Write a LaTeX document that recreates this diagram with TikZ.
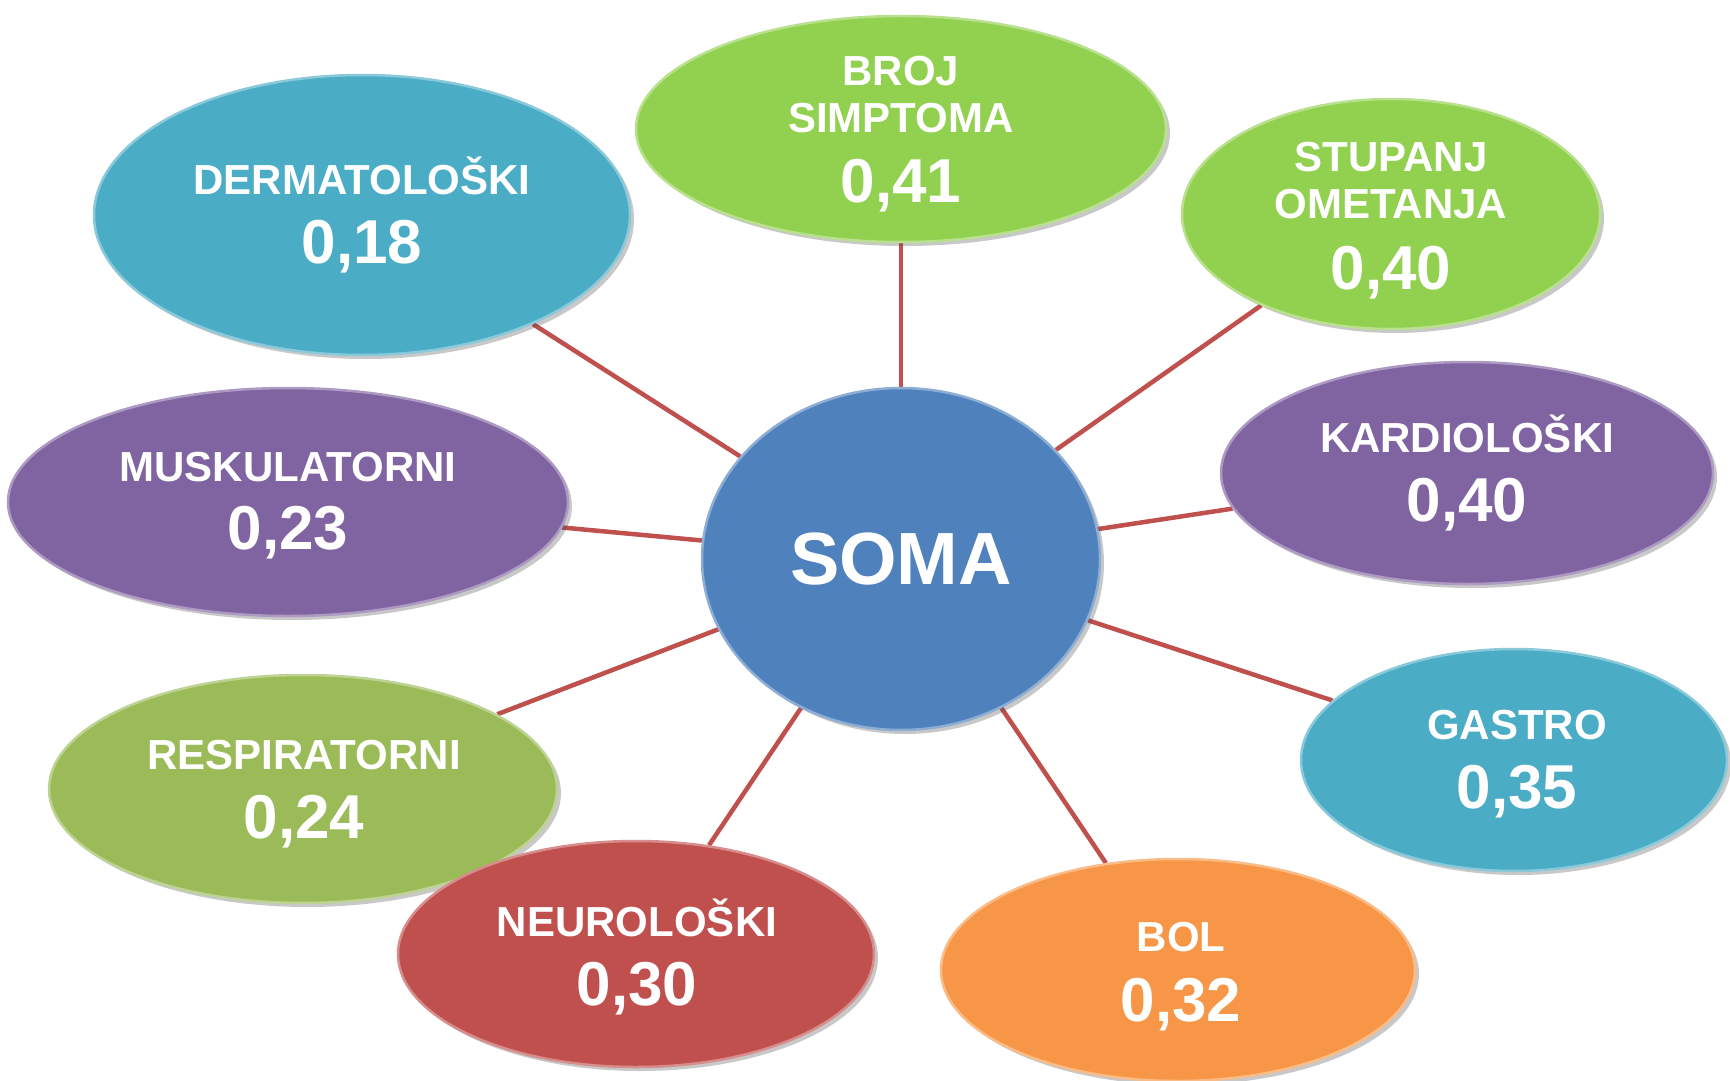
\documentclass[tikz,border=0pt]{standalone}
\usepackage{fontspec}
\setmainfont{Liberation Sans}
\usetikzlibrary{shapes.geometric,shadows}
\definecolor{cteal}{HTML}{4BACC6}
\definecolor{cgreen}{HTML}{92D050}
\definecolor{cpurple}{HTML}{8064A2}
\definecolor{colive}{HTML}{9BBB59}
\definecolor{cred}{HTML}{C0504D}
\definecolor{corange}{HTML}{F79646}
\definecolor{cblue}{HTML}{4F81BD}
\definecolor{cline}{HTML}{C0504D}
\pgfdeclarelayer{bglayer}
\pgfdeclarelayer{linelayer}
\pgfsetlayers{bglayer,linelayer,main}
\pgfdeclareradialshading{vign}{\pgfpoint{0bp}{0bp}}{color(0bp)=(white); color(46bp)=(white); color(71bp)=(black!10)}
\begin{document}
\begin{tikzpicture}[x=1pt,y=-1pt,
  bubble/.style={ellipse, fill=#1, draw=#1!65!white, line width=2.5pt, inner sep=0pt,
    drop shadow={shadow xshift=4pt, shadow yshift=-4pt, opacity=0.3, fill=black!70}},
  lbl/.style={anchor=base, text=white, font=\fontsize{42}{48}\selectfont\bfseries, inner sep=0pt},
  num/.style={anchor=base, text=white, font=\fontsize{62}{70}\selectfont\bfseries, inner sep=0pt},
  conn/.style={draw=cline, line width=4.5pt}]
\useasboundingbox (0,0) rectangle (1730,1081);
\begin{pgfonlayer}{bglayer}
  \path[shading=vign] (0,0) rectangle (1730,1081);
\end{pgfonlayer}

% outer bubbles
\node[bubble=cteal,   minimum width=536pt, minimum height=280pt] (derm) at (362,215) {};
\node[bubble=cgreen,  minimum width=530pt, minimum height=226pt] (broj) at (901,129) {};
\node[bubble=cgreen,  minimum width=418pt, minimum height=230pt] (stup) at (1391,214) {};
\node[bubble=cpurple, minimum width=492pt, minimum height=222pt] (kard) at (1467,473) {};
\node[bubble=cteal,   minimum width=426pt, minimum height=222pt] (gast) at (1514,760) {};
\node[bubble=corange, minimum width=474pt, minimum height=222pt] (bol)  at (1178,970) {};
\node[bubble=cpurple, minimum width=560pt, minimum height=228pt] (musk) at (288,502) {};
\node[bubble=colive,  minimum width=508pt, minimum height=228pt] (resp) at (303,789) {};
\node[bubble=cred,    minimum width=476pt, minimum height=226pt] (neur) at (636,954) {};

% centre
\node[bubble=cblue, minimum width=398pt, minimum height=342pt, text=white,
      font=\fontsize{74}{80}\selectfont\bfseries] (soma) at (901,559) {SOMA};

% connectors
\begin{pgfonlayer}{linelayer}
  \foreach \t in {derm,broj,stup,kard,gast,bol,musk,resp,neur}
    \draw[conn] (soma) -- (\t);
\end{pgfonlayer}

% texts
\node[lbl] (dermL) at (362,194) {DERMATOLOŠKI};
\node[num] (dermN) at (362,263) {0,18};
\node[lbl] (brojL1) at (901,85) {BROJ};
\node[lbl] (brojL2) at (901,132) {SIMPTOMA};
\node[num] (brojN) at (901,202) {0,41};
\node[lbl] (stupL1) at (1391,171) {STUPANJ};
\node[lbl] (stupL2) at (1391,218) {OMETANJA};
\node[num] (stupN) at (1391,289) {0,40};
\node[lbl] (kardL) at (1467,452) {KARDIOLOŠKI};
\node[num] (kardN) at (1467,521) {0,40};
\node[lbl] (gastL) at (1517,739) {GASTRO};
\node[num] (gastN) at (1517,808) {0,35};
\node[lbl] (bolL) at (1181,951) {BOL};
\node[num] (bolN) at (1181,1021) {0,32};
\node[lbl] (neurL) at (637,936) {NEUROLOŠKI};
\node[num] (neurN) at (637,1005) {0,30};
\node[lbl] (respL) at (304,769) {RESPIRATORNI};
\node[num] (respN) at (304,838) {0,24};
\node[lbl] (muskL) at (288,481) {MUSKULATORNI};
\node[num] (muskN) at (288,549) {0,23};
\end{tikzpicture}
\end{document}
